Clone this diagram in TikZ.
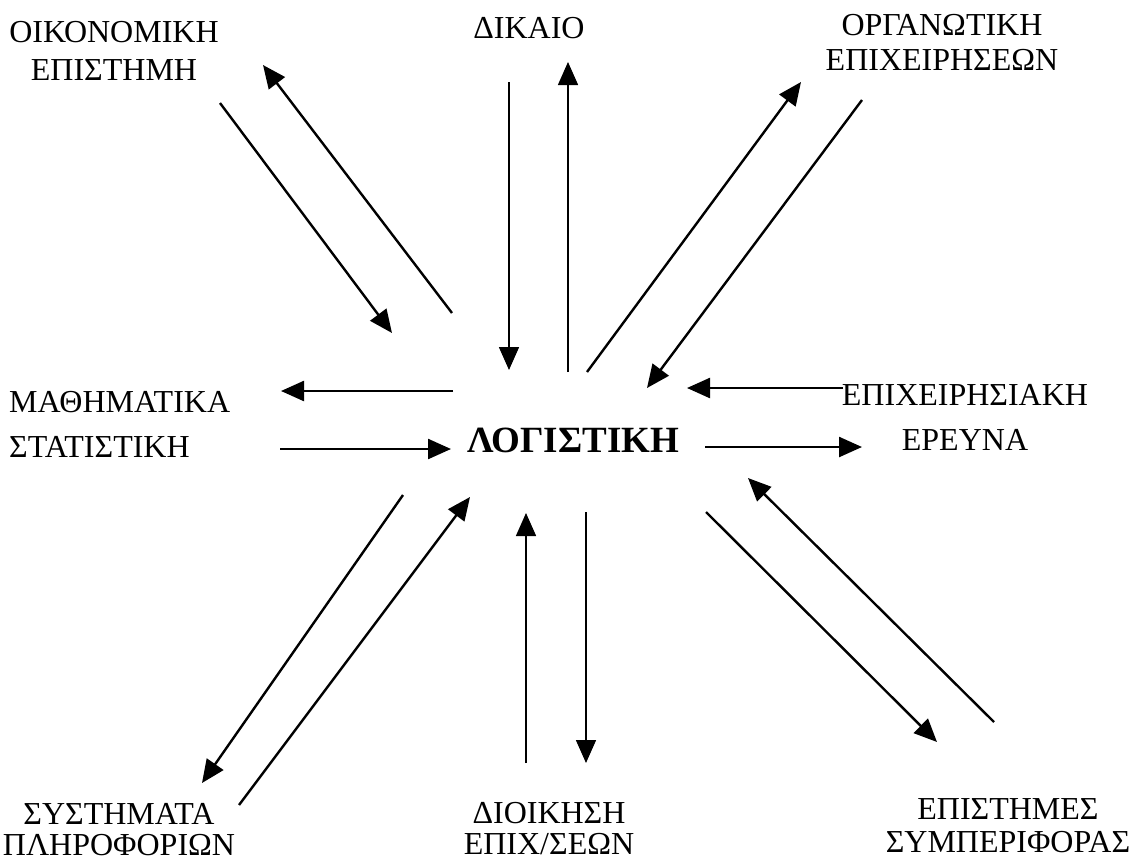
\documentclass[tikz,border=0pt]{standalone}
\usepackage{fontspec}
\setmainfont{Liberation Serif}
\usetikzlibrary{arrows.meta}

\begin{document}
\begin{tikzpicture}[x=1pt,y=-1pt,
    every node/.style={inner sep=0pt,anchor=base,align=center,
      font=\fontsize{32}{36}\selectfont},
    arr/.style={-{Triangle[length=23pt,width=20pt]},line width=2.4pt},
    thinarr/.style={arr,line width=1.5pt}]
  \useasboundingbox (0,0) rectangle (1138,863);
  \draw
    (114,80) node (oik){ΟΙΚΟΝΟΜΙΚΗ\\[2pt]ΕΠΙΣΤΗΜΗ}
    (529,38) node (dik){ΔΙΚΑΙΟ}
    (942,70) node (org){ΟΡΓΑΝΩΤΙΚΗ\\[-1pt]ΕΠΙΧΕΙΡΗΣΕΩΝ}
    (9,457) node[anchor=base west,align=left] (mat){ΜΑΘΗΜΑΤΙΚΑ\\[9pt]ΣΤΑΤΙΣΤΙΚΗ}
    (573,452) node[font=\fontsize{37}{40}\selectfont\bfseries] (log){ΛΟΓΙΣΤΙΚΗ}
    (965,450) node (epx){ΕΠΙΧΕΙΡΗΣΙΑΚΗ\\[9pt]ΕΡΕΥΝΑ}
    (119,855) node (sys){ΣΥΣΤΗΜΑΤΑ\\[-5pt]ΠΛΗΡΟΦΟΡΙΩΝ}
    (549,854) node (dio){ΔΙΟΙΚΗΣΗ\\[-5pt]ΕΠΙΧ/ΣΕΩΝ}
    (1008,852) node (epi){ΕΠΙΣΤΗΜΕΣ\\[-3pt]ΣΥΜΠΕΡΙΦΟΡΑΣ};
  \draw
    (220,103) coordinate (oik1) (392,333) coordinate (log1)
    (452,313) coordinate (log2) (263,65) coordinate (oik2)
    (509,82) coordinate (dik1) (509,370) coordinate (log3)
    (568,372) coordinate (log4) (568,62) coordinate (dik2)
    (587,372) coordinate (log5) (801,82) coordinate (org1)
    (862,100) coordinate (org2) (647,388) coordinate (log6)
    (453,391) coordinate (log7) (281,391) coordinate (mat1)
    (280,449) coordinate (mat2) (451,449) coordinate (log8)
    (843,388) coordinate (epx1) (687,388) coordinate (log9)
    (705,447) coordinate (log10) (862,447) coordinate (epx2)
    (403,495) coordinate (log11) (202,783) coordinate (sys1)
    (239,805) coordinate (sys2) (470,497) coordinate (log12)
    (526,763) coordinate (dio1) (526,513) coordinate (log13)
    (586,512) coordinate (log14) (586,763) coordinate (dio2)
    (706,512) coordinate (log15) (937,742) coordinate (epi1)
    (994,722) coordinate (epi2) (748,478) coordinate (log16);
  \begin{scope}[arr]
    \draw (oik1) to (log1);
    \draw (log2) to (oik2);
    \draw[thinarr] (dik1) to (log3);
    \draw[thinarr] (log4) to (dik2);
    \draw (log5) to (org1);
    \draw (org2) to (log6);
    \draw (log7) to (mat1);
    \draw (mat2) to (log8);
    \draw (epx1) to (log9);
    \draw (log10) to (epx2);
    \draw (log11) to (sys1);
    \draw (sys2) to (log12);
    \draw[thinarr] (dio1) to (log13);
    \draw[thinarr] (log14) to (dio2);
    \draw (log15) to (epi1);
    \draw (epi2) to (log16);
  \end{scope}
\end{tikzpicture}
\end{document}
